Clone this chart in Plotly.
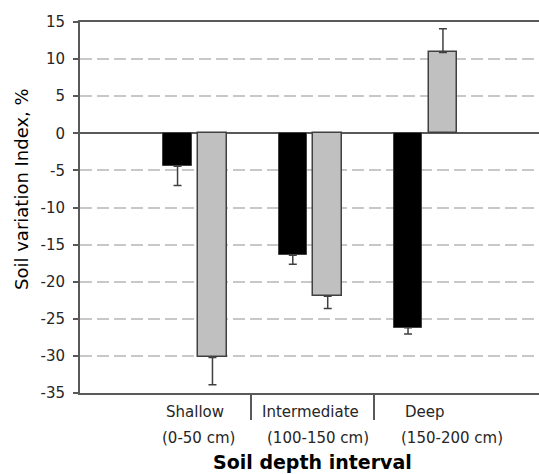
import plotly.graph_objects as go

# ---- data ----
categories = ["Shallow", "Intermediate", "Deep"]
depth_ranges = ["(0-50 cm)", "(100-150 cm)", "(150-200 cm)"]
series_black = [-4.45, -16.45, -26.2]
series_black_err = [2.6, 1.2, 0.85]
series_gray = [-30.2, -21.95, 10.9]
series_gray_err = [3.7, 1.65, 3.2]
y_ticks = [-35, -30, -25, -20, -15, -10, -5, 0, 5, 10, 15]
x_title = "Soil depth interval"
y_title = "Soil variation Index, %"

FONT = "DejaVu Sans"
TXT = "#262626"
AX = "#595959"
xs = list(range(len(categories)))


def split_err(vals, errs):
    up = [e if v >= 0 else 0 for v, e in zip(vals, errs)]
    dn = [e if v < 0 else 0 for v, e in zip(vals, errs)]
    return up, dn


bu, bd = split_err(series_black, series_black_err)
gu, gd = split_err(series_gray, series_gray_err)

fig = go.Figure()
fig.add_trace(go.Bar(
    x=xs, y=series_black, offset=-0.275, width=0.247,
    marker=dict(color="#000000", line=dict(color="#404040", width=1)),
    error_y=dict(type="data", symmetric=False, array=bu, arrayminus=bd,
                 color="#404040", thickness=1.5, width=4),
    showlegend=False,
))
fig.add_trace(go.Bar(
    x=xs, y=series_gray, offset=0.028, width=0.247,
    marker=dict(color="#c0c0c0", line=dict(color="#404040", width=1.5)),
    error_y=dict(type="data", symmetric=False, array=gu, arrayminus=gd,
                 color="#404040", thickness=1.5, width=4),
    showlegend=False,
))

# category labels (two lines)
line2_shift = [3, 8, 27]
for i, (c, d) in enumerate(zip(categories, depth_ranges)):
    fig.add_annotation(x=xs[i], xref="x", y=0, yref="paper", yshift=-19,
                       text=c, showarrow=False, yanchor="middle",
                       font=dict(family=FONT, size=15, color=TXT))
    fig.add_annotation(x=xs[i], xref="x", y=0, yref="paper", yshift=-45,
                       xshift=line2_shift[i],
                       text=d, showarrow=False, yanchor="middle",
                       font=dict(family=FONT, size=15, color=TXT))

fig.add_annotation(x=0.5065, xref="paper", y=0, yref="paper", yshift=-69,
                   text="<b>" + x_title + "</b>", showarrow=False, yanchor="middle",
                   font=dict(family=FONT, size=19, color="#000000"))
fig.add_annotation(x=0, xref="paper", xshift=-58, y=0.55, yref="paper",
                   text=y_title, textangle=-90, showarrow=False,
                   xanchor="center", yanchor="middle",
                   font=dict(family=FONT, size=18, color="#000000"))

fig.update_layout(
    width=539, height=474,
    margin=dict(l=80, r=0, t=22, b=81),
    paper_bgcolor="white", plot_bgcolor="white",
    bargap=0,
    xaxis=dict(
        range=[-0.998, 2.985],
        showgrid=False, zeroline=False,
        showline=True, linecolor=AX, linewidth=2, mirror=True,
        tickmode="array", tickvals=[0.483, 1.553], ticktext=["", ""],
        ticks="outside", ticklen=25, tickwidth=1.5, tickcolor=AX,
        showticklabels=False,
    ),
    yaxis=dict(
        range=[-35, 15], tickmode="array", tickvals=y_ticks,
        ticktext=[str(v) for v in y_ticks],
        showline=True, linecolor=AX, linewidth=2,
        ticks="outside", ticklen=5, tickwidth=1.5, tickcolor=AX,
        showgrid=True, gridcolor="#c8c8c8", gridwidth=1.5, griddash="12px,5px",
        zeroline=True, zerolinecolor=AX, zerolinewidth=2,
        tickfont=dict(family=FONT, size=15, color=TXT),
        ticklabelstandoff=5,
    ),
)

fig.write_html("out.html")
